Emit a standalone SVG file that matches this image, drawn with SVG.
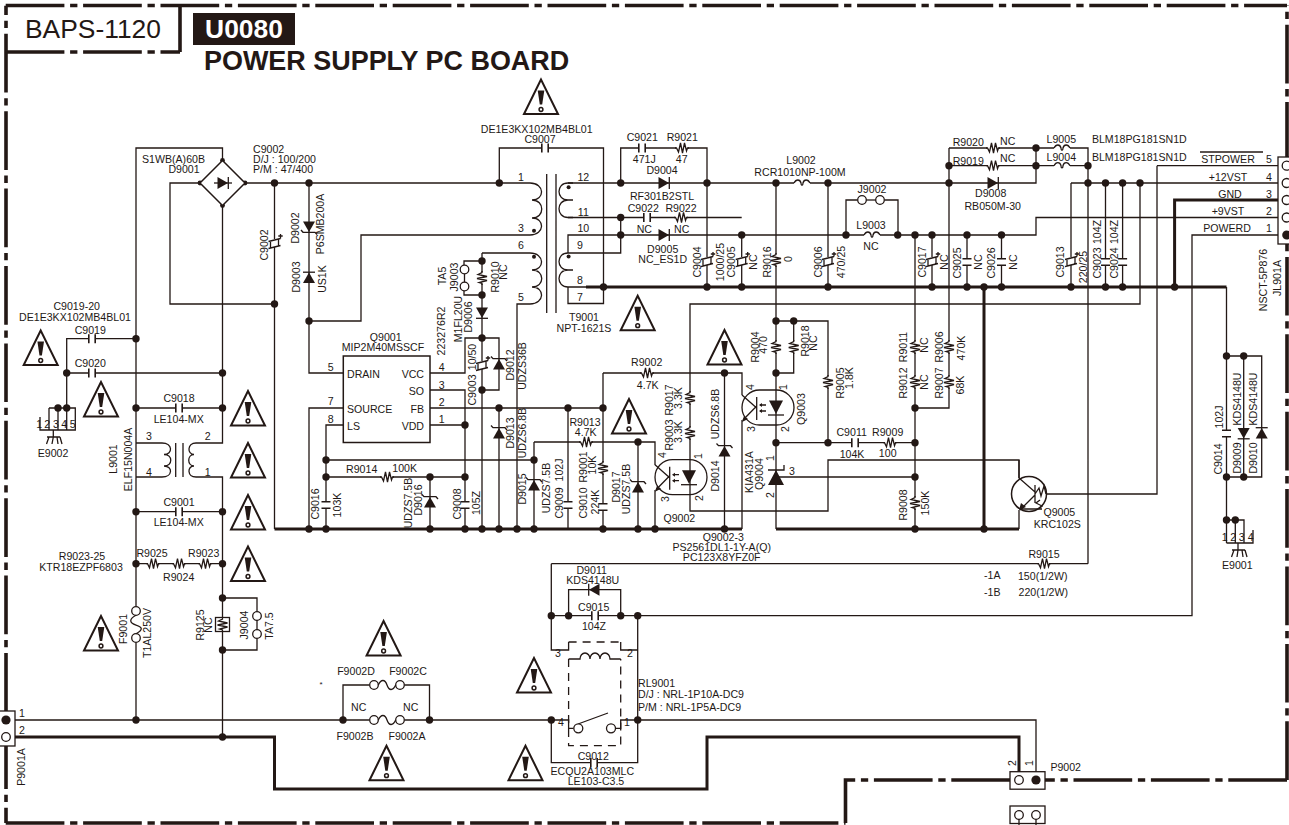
<svg xmlns="http://www.w3.org/2000/svg" width="1289" height="825" viewBox="0 0 1289 825">
<style>
text{font-family:"Liberation Sans",Arial,sans-serif;font-size:10.6px;fill:#231815;text-anchor:middle}
.s{text-anchor:start}.e{text-anchor:end}
.w,.t,.b,.sy{fill:none;stroke:#231815;stroke-linejoin:miter}
.w{stroke-width:1.3}.t{stroke-width:3}
.b{stroke-width:3.6;stroke-dasharray:58.7 5.7 7.3 5.7}
.sy{stroke-width:1.3}
.f{fill:#231815;stroke:none}
.o{fill:#fff;stroke:#231815;stroke-width:1.3}
.m{fill:#fff;stroke:none}
.d{fill:#231815;stroke:none}
</style>
<defs>
<circle id="j" r="3.7" class="d"/>
<circle id="js" r="2.4" class="d"/>
<g id="tri"><path d="M0,0 L-17,34.5 H17 Z" fill="#fff" stroke="#231815" stroke-width="2"/><path d="M-3.3,11 H3.3 L1.2,25 H-1.2 Z" class="f"/><circle cy="30" r="1.9" fill="#fff" stroke="#231815" stroke-width="1.5"/></g>
<g id="rh"><rect x="-6" y="-2" width="12" height="4" class="m"/><path class="sy" d="M-7,0 H-5.5 L-3.5,4 L-1.5,-5 L0.5,5 L2.5,-5 L4.5,3 L5.5,0 H7"/></g>
<g id="rv"><use href="#rh" transform="rotate(90)"/></g>
<g id="ch"><rect x="-3" y="-2" width="6" height="4" class="m"/><path class="sy" style="stroke-width:1.6" d="M-3.2,-4.5 V4.5 M3.2,-4.5 V4.5"/></g>
<g id="cv"><use href="#ch" transform="rotate(90)"/></g>
<g id="ce"><rect x="-3" y="-4" width="6" height="8" class="m"/><path class="sy" d="M-6,-1.5 L6,-4.5 M-6,5.5 L6,2.5 M-4,-1 V5 M4,-3.5 V3 M6,-9 V-4.5 M3.8,-7 H8.2"/></g>
<g id="dr"><path class="f" d="M-5.5,-6 V6 L5,0 Z"/><path class="sy" d="M5.3,-6 V6"/></g>
<g id="dl"><path class="f" d="M5.5,-6 V6 L-5,0 Z"/><path class="sy" d="M-5.3,-6 V6"/></g>
<g id="dd"><path class="f" d="M-6,-5.5 H6 L0,5 Z"/><path class="sy" d="M-6,5.3 H6"/></g>
<g id="du"><path class="f" d="M-6,5.5 H6 L0,-5 Z"/><path class="sy" d="M-6,-5.3 H6"/></g>
<g id="zd"><path class="f" d="M-6,-5.5 H6 L0,5 Z"/><path class="sy" d="M-8,3 L-6,5.3 H6 L8,7.5"/></g>
<g id="zu"><path class="f" d="M-6,5.5 H6 L0,-5 Z"/><path class="sy" d="M-8,-7.5 L-6,-5.3 H6 L8,-3"/></g>
<g id="l"><rect x="-8" y="-2" width="16" height="4" class="m"/><path class="sy" d="M-8,0 C-6,-4 -2,-4 -1,0 C-1,3 1,3 1,0 C2,-4 6,-4 8,0"/></g>
<g id="opto"><rect width="52" height="35" rx="17.5" fill="none" stroke="#231815" stroke-width="1.3"/><path class="sy" d="M0,5 L14.7,18 M14.7,16 L1,30 M14.7,7 V30 M24,15 H18 M24,21 H18"/><path class="f" d="M17,15 L20,13 V17 Z M17,21 L20,19 V23 Z M0,32 L2,26 L6,29 Z"/><path class="f" d="M27,10.5 H41 L34,24 Z"/><path class="sy" d="M26,25 H42"/></g>
</defs>

<g id="border">
<path class="b" d="M5.7,5.5 H1287"/>
<path class="b" stroke-dashoffset="49.3" d="M6,5.7 V823"/>
<path class="b" d="M5.7,823 H845.5"/>
<path class="b" d="M1287,780 V5.5"/>
<path class="b" d="M1287,780 H1045"/>
<path class="b" d="M1010,780 H845.5 V823"/>
<path class="b" d="M5.7,52 H180"/>
<path class="w" style="stroke-width:3.6" d="M180,52 V5"/>
</g>

<g id="title">
<text class="s" x="25" y="37.5" style="font-size:26.4px">BAPS-1120</text>
<rect x="193" y="13" width="102" height="32" fill="#231815"/>
<text x="244" y="37.8" style="font-size:26.4px;font-weight:bold;fill:#fff">U0080</text>
<text class="s" x="204" y="70" style="font-size:26.95px;font-weight:bold">POWER SUPPLY PC BOARD</text>
</g>

<g id="connectors">
<path class="w" d="M222.5,160 V148 H136 V477 M136,443 H162 M136,477 H162 M136,477 V606.5 M136,642.5 V720"/>
<path class="w" d="M200,183 H170 V304 H274.5"/>
<path class="w" d="M222.5,206 V443 H196 M196,477 H222.5 V737"/>
<path class="w" d="M245,183 H530"/>
<path class="w" d="M274.5,183 V529"/>
<path class="w" d="M309,183 V373 H343"/>
<path class="w" d="M309,321 H361 V235 H530"/>
<path class="w" d="M66.7,408 V338.7 H136 M66.7,373 H222.5 M136,408 H222.5 M136,511.7 H222.5 M136,563.7 H222.5"/>
<path class="w" d="M222.5,598 H257 V611.5 M257,638.5 V650 H222.5"/>
<path class="w" d="M15,720 H343 M343,720 H369.5 M404.5,720 H551.3 M343,720 V685 H369.5 M404.5,685 H429.5 V720"/>
<path class="t" d="M15,737 H274.5 V789 H707 V737 H1019 V776"/>
<path class="w" d="M551.3,720 H568.6 V728.3 H573.5 M637.7,720 H620.7 V728.3 H615.5 M637.7,720 H1036 V776"/>
<path class="w" d="M551.3,720 V762.6 H637.7 V615.7 M551.3,563.7 V650 H568.6 V642 M637.7,650 H620.7 V642"/>
<path class="w" d="M551.3,563.7 H1088 M551.3,615.7 H637.7 M637.7,615.7 H1192 V235 H1282 M568.6,615.7 V589.7 H620.7 V615.7"/>
<path class="w" d="M343,408 H309 V529 M343,425 H326 V529 M326,460 H534 M326,477 H465"/>
<path class="w" d="M430,373 H465 V338 H482 M430,390 H465 V529 M430,425 H465 M430,408 H603 M430,477 V529"/>
<path class="w" d="M482,253 V529 M482,253 H530 M482,261 H464 V265 M464,291 V295 H482 M482,338 H499 V390 H482 M499,408 V529"/>
<path class="w" d="M530,304 H517 V529 M534,442 V529 M534,442 H655 V465 M568,408 V529 M603,373 V529 M638,442 V529"/>
<path class="w" d="M603,373 H742 V395 M742,420 V529 M724.5,373 V529 M655,490 V529"/>
<path class="w" d="M499.3,183 V148 H603.5 V303.5 H568 V287 M568,253 V235 H741.7 V287 M568,253 H620.7 V217.5 H741.7 M568,217.5 H620.7"/>
<path class="w" d="M568,183 H1036 V148 M620.7,183 V148 H707 V287 M776,183 V373 V442.7 V529 M828,183 V287 M741.7,235 H846 M846,235 V200 H857.5 M884.5,200 H898 V235"/>
<path class="w" d="M846,235 H1036 V217.5 H1282 M915,235 V529 M932,235 V287 M967,235 V287 M1001.5,235 V287"/>
<path class="w" d="M949,148 H1088 V563.7 M949,165.7 H1088 M949,148 V408 H915 M1071,183 H1282 M1071,183 V287 M1105.5,183 V287 M1122.6,183 V287 M1140,183 V304 H690 V511 H828 V460 H1019 V478"/>
<path class="w" d="M776,321 H828 V442.7 M793.7,321 V373 H776 M776,442.7 H915 M776,477 H915"/>
<path class="w" d="M1157,165.7 H1282 M1157,165.7 V494 H1047 M1019,510 V529"/>
<path class="w" d="M1226.5,287 V543 M1226.5,356 H1261.7 V477 H1226.5 M1243.7,356 V477"/>
<path class="t" d="M274.5,529 H742 M776,529 H1019 M586,287 H1226.5 M984,287 V529 M1174.6,287 V200 H1282"/>
<use href="#js" x="222.5" y="160.5"/><use href="#js" x="222.5" y="205.5"/><use href="#js" x="200" y="183"/><use href="#js" x="245" y="183"/>
<use href="#j" x="274.5" y="183"/><use href="#j" x="309" y="183"/><use href="#j" x="274.5" y="304"/><use href="#j" x="309" y="321"/>
<use href="#j" x="136" y="338.7"/><use href="#j" x="66.7" y="373"/><use href="#j" x="222.5" y="373"/><use href="#j" x="136" y="408"/><use href="#j" x="222.5" y="408"/><use href="#j" x="136" y="511.7"/><use href="#j" x="222.5" y="511.7"/><use href="#j" x="136" y="563.7"/><use href="#j" x="222.5" y="563.7"/><use href="#j" x="222.5" y="598"/><use href="#j" x="222.5" y="650"/><use href="#j" x="136" y="720"/><use href="#j" x="222.5" y="737"/><use href="#j" x="343" y="720"/><use href="#j" x="429.5" y="720"/>
<use href="#j" x="551.3" y="720"/><use href="#j" x="637.7" y="720"/><use href="#j" x="551.3" y="615.7"/><use href="#j" x="568.6" y="615.7"/><use href="#j" x="620.7" y="615.7"/><use href="#j" x="637.7" y="615.7"/>
<use href="#j" x="309" y="529"/><use href="#j" x="326" y="529"/><use href="#j" x="430" y="529"/><use href="#j" x="465" y="529"/><use href="#j" x="482" y="529"/><use href="#j" x="499" y="529"/><use href="#j" x="517" y="529"/><use href="#j" x="534" y="529"/><use href="#j" x="603" y="529"/><use href="#j" x="638" y="529"/><use href="#j" x="655" y="529"/><use href="#j" x="724.5" y="529"/><use href="#j" x="915" y="529"/><use href="#j" x="984" y="529"/>
<use href="#j" x="326" y="460"/><use href="#j" x="326" y="477"/><use href="#j" x="430" y="477"/><use href="#j" x="465" y="477"/><use href="#j" x="465" y="425"/><use href="#j" x="534" y="460"/><use href="#j" x="482" y="261"/><use href="#j" x="482" y="295"/><use href="#j" x="482" y="338"/><use href="#j" x="482" y="390"/><use href="#j" x="499" y="408"/><use href="#j" x="568" y="408"/><use href="#j" x="603" y="408"/><use href="#j" x="638" y="442"/><use href="#j" x="724.5" y="373"/>
<use href="#j" x="499.3" y="183"/><use href="#j" x="620.7" y="183"/><use href="#j" x="707" y="183"/><use href="#j" x="776" y="183"/><use href="#j" x="828" y="183"/><use href="#j" x="620.7" y="217.5"/><use href="#j" x="620.7" y="235"/><use href="#j" x="741.7" y="235"/><use href="#j" x="846" y="235"/><use href="#j" x="897.7" y="235"/><use href="#j" x="915" y="235"/><use href="#j" x="932" y="235"/><use href="#j" x="967" y="235"/><use href="#j" x="1001.5" y="235"/>
<use href="#j" x="603.5" y="287"/><use href="#j" x="707" y="287"/><use href="#j" x="741.7" y="287"/><use href="#j" x="828" y="287"/><use href="#j" x="932" y="287"/><use href="#j" x="967" y="287"/><use href="#j" x="984" y="287"/><use href="#j" x="1001.5" y="287"/><use href="#j" x="1071" y="287"/><use href="#j" x="1105.5" y="287"/><use href="#j" x="1122.6" y="287"/><use href="#j" x="1174.6" y="287"/>
<use href="#j" x="949" y="165.7"/><use href="#j" x="949" y="183"/><use href="#j" x="1036" y="148"/><use href="#j" x="1036" y="165.7"/><use href="#j" x="1088" y="165.7"/><use href="#j" x="1088" y="183"/><use href="#j" x="1105.5" y="183"/><use href="#j" x="1122.6" y="183"/><use href="#j" x="1140" y="183"/>
<use href="#j" x="776" y="321"/><use href="#j" x="793.7" y="321"/><use href="#j" x="776" y="373"/><use href="#j" x="776" y="442.7"/><use href="#j" x="828" y="442.7"/><use href="#j" x="915" y="408"/><use href="#j" x="915" y="442.7"/><use href="#j" x="915" y="477"/>
<use href="#j" x="1226.5" y="356"/><use href="#j" x="1243.7" y="356"/><use href="#j" x="1226.5" y="477"/><use href="#j" x="1243.7" y="477"/><use href="#j" x="1226.5" y="520"/><use href="#j" x="1235.3" y="520"/>
<use href="#j" x="58" y="408"/><use href="#j" x="66.7" y="408"/>
</g>

<g id="warnings">
<use href="#tri" x="40.7" y="330.5"/><use href="#tri" x="101" y="382"/><use href="#tri" x="248" y="391"/><use href="#tri" x="248" y="443"/><use href="#tri" x="248" y="495"/><use href="#tri" x="248" y="546.5"/><use href="#tri" x="101" y="616"/><use href="#tri" x="383.6" y="621"/><use href="#tri" x="386.5" y="745.7"/><use href="#tri" x="541" y="79.5"/><use href="#tri" x="637.7" y="295.7"/><use href="#tri" x="724.5" y="330"/><use href="#tri" x="629" y="399"/><use href="#tri" x="534" y="658"/><use href="#tri" x="525.5" y="745.7"/>
</g>

<g id="D9001">
<path d="M222.5,160.5 L245,183 L222.5,205.5 L200,183 Z" fill="#fff" stroke="#231815" stroke-width="1.5"/>
<use href="#dr" x="223" y="183"/>
<path class="w" d="M214,183 H232"/>
<text x="173.5" y="162.5">S1WB(A)60B</text><text x="184" y="173">D9001</text>
</g>
<g id="C9002">
<use href="#ce" x="274.5" y="243"/>
<text class="s" x="253" y="153">C9002</text><text class="s" x="253" y="163">D/J : 100/200</text><text class="s" x="253" y="173">P/M : 47/400</text>
<text transform="translate(268,245) rotate(-90)">C9002</text>
</g>
<g id="D9002"><use href="#zd" x="309" y="227"/><text transform="translate(299,228) rotate(-90)">D9002</text><text transform="translate(324,224) rotate(-90)">P6SMB200A</text></g>
<g id="D9003"><use href="#du" x="309" y="277.5"/><text transform="translate(300,277) rotate(-90)">D9003</text><text transform="translate(325.5,279) rotate(-90)">US1K</text></g>

<g id="C9019"><use href="#ch" x="92" y="338.7"/><text x="76.7" y="310">C9019-20</text><text x="75" y="321">DE1E3KX102MB4BL01</text><text x="90.3" y="334">C9019</text></g>
<g id="C9020"><use href="#ch" x="92" y="373"/><text x="90.3" y="367">C9020</text></g>
<g id="E9002">
<path class="w" d="M49,408 H75.3 V430 H40 V417 M49,408 V430 M58,408 V430 M66.7,408 V430 M53.3,430 V437 M47,437 H60 M49,437 L46.5,444 M53.3,437 L52,444 M57,437 L58,444 M60,437 L62,444"/>
<text x="39.3" y="428">1</text><text x="47.3" y="428">2</text><text x="56" y="428">3</text><text x="64.3" y="428">4</text><text x="72.7" y="428">5</text>
<text x="53" y="457">E9002</text>
</g>
<g id="C9018"><use href="#ch" x="179" y="408"/><text x="179" y="402">C9018</text><text x="178.7" y="423">LE104-MX</text></g>
<g id="L9001">
<path class="w" d="M162,443 C173,443 173,454.5 164,454.5 C173,454.5 173,466 164,466 C173,466 173,477 162,477 M196,443 C187,443 187,454.5 194,454.5 M194,454.5 C187,454.5 187,466 194,466 M194,466 C187,466 187,477 196,477 M175.7,443 V477 M183,443 V477"/>
<text transform="translate(117,459) rotate(-90)">L9001</text><text transform="translate(131.5,459.5) rotate(-90)">ELF15N004A</text>
<text x="149" y="440">3</text><text x="207.7" y="440">2</text><text x="149" y="475.5">4</text><text x="207.7" y="475.5">1</text>
</g>
<g id="C9001"><use href="#ch" x="179" y="511.7"/><text x="179" y="506">C9001</text><text x="178.7" y="526">LE104-MX</text></g>
<g id="R9023-25">
<use href="#rh" x="153" y="563.7"/><use href="#rh" x="179" y="563.7"/><use href="#rh" x="205" y="563.7"/>
<text x="82" y="559.5">R9023-25</text><text x="81" y="571">KTR18EZPF6803</text><text x="152" y="557">R9025</text><text x="203.7" y="557">R9023</text><text x="178.7" y="581">R9024</text>
</g>
<g id="F9001">
<circle class="o" cx="136" cy="611" r="4.3"/><circle class="o" cx="136" cy="638" r="4.3"/>
<path class="w" d="M136,615.3 C129,619 129,623 136,625 C143,627 143,630 136,633.7"/>
<text transform="translate(127,629) rotate(-90)">F9001</text><text transform="translate(151,633) rotate(-90)">T1AL250V</text>
</g>
<g id="R9125"><rect x="215.5" y="617.5" width="14" height="14" fill="#fff" stroke="#231815" stroke-width="1.3"/><use href="#rv" x="222.5" y="624.5"/><text transform="translate(204,625) rotate(-90)">R9125</text><text transform="translate(212,625) rotate(-90)">NC</text></g>
<g id="J9004"><circle class="o" cx="257" cy="616" r="4.3"/><circle class="o" cx="257" cy="634" r="4.3"/><path class="w" d="M257,620 V630"/><text transform="translate(248,625) rotate(-90)">J9004</text><text transform="translate(272.5,626) rotate(-90)">TA7.5</text></g>
<g id="P9001A">
<rect x="-2" y="711" width="17" height="35" fill="#fff" stroke="#231815" stroke-width="1.3"/>
<circle cx="6" cy="720" r="4.6" class="d"/><circle class="o" cx="6" cy="737" r="4.3"/>
<text x="22" y="717">1</text><text x="22" y="734">2</text><text transform="translate(24.5,767) rotate(-90)">P9001A</text>
</g>
<g id="F9002">
<circle class="o" cx="374" cy="685" r="4.3"/><circle class="o" cx="400" cy="685" r="4.3"/><circle class="o" cx="374" cy="720" r="4.3"/><circle class="o" cx="400" cy="720" r="4.3"/>
<path class="w" d="M378.3,685 C381,679 385,679 387,685 C389,691 393,691 395.7,685 M378.3,720 C381,714 385,714 387,720 C389,726 393,726 395.7,720"/>
<text x="356" y="675">F9002D</text><text x="408" y="675">F9002C</text><text x="358.7" y="710.5">NC</text><text x="410.7" y="710.5">NC</text><text x="355" y="740">F9002B</text><text x="407" y="740">F9002A</text><text x="321" y="687" style="font-size:8px">*</text>
</g>

<g id="Q9001">
<rect x="343.3" y="356" width="86.7" height="86.5" fill="#fff" stroke="#231815" stroke-width="1.5"/>
<text x="385.7" y="340.5">Q9001</text><text x="383" y="351">MIP2M40MSSCF</text>
<text x="330.7" y="371">5</text><text x="330.7" y="405">7</text><text x="330.7" y="423">8</text><text x="441.7" y="371">4</text><text x="441.7" y="389">3</text><text x="441.7" y="406">2</text><text x="441.7" y="423">1</text>
<text class="s" x="347" y="377.5">DRAIN</text><text class="s" x="347" y="412.8">SOURCE</text><text class="s" x="347" y="430">LS</text>
<text class="e" x="424" y="377.5">VCC</text><text class="e" x="424" y="394.8">SO</text><text class="e" x="424" y="412.8">FB</text><text class="e" x="424" y="430">VDD</text>
</g>
<g id="R9014"><use href="#rh" x="387" y="477"/><text x="361.7" y="473">R9014</text><text x="404.7" y="472">100K</text></g>
<g id="C9016"><use href="#cv" x="326" y="505"/><text transform="translate(319,504) rotate(-90)">C9016</text><text transform="translate(340.5,505) rotate(-90)">103K</text></g>
<g id="D9016"><use href="#zu" x="430" y="502"/><text transform="translate(412,503) rotate(-90)">UDZS7.5B</text><text transform="translate(422,500) rotate(-90)">D9016</text></g>
<g id="C9008"><use href="#cv" x="465" y="505"/><text transform="translate(460.5,504) rotate(-90)">C9008</text><text transform="translate(480,503) rotate(-90)">105Z</text></g>
<g id="C9003"><use href="#ce" x="482" y="365"/><text transform="translate(475.5,390) rotate(-90)">C9003</text><text transform="translate(475.5,357) rotate(-90)">10/50</text></g>
<g id="D9012"><use href="#zu" x="499" y="364"/><text transform="translate(514,365) rotate(-90)">D9012</text><text transform="translate(526,366) rotate(-90)">UDZS36B</text></g>
<g id="D9013"><use href="#zu" x="499" y="433"/><text transform="translate(514,433) rotate(-90)">D9013</text><text transform="translate(526,433) rotate(-90)">UDZS6.8B</text></g>
<g id="R9013"><use href="#rh" x="586" y="442"/><text x="585" y="425.5">R9013</text><text x="585.7" y="435.5">4.7K</text></g>
<g id="D9015"><use href="#zu" x="534" y="485"/><text transform="translate(526,489) rotate(-90)">D9015</text><text transform="translate(549.5,488) rotate(-90)">UDZS7.5B</text></g>
<g id="C9009"><use href="#cv" x="568" y="505"/><text transform="translate(563,503) rotate(-90)">C9009</text><text transform="translate(563,470) rotate(-90)">102J</text></g>
<g id="C9010"><use href="#cv" x="603" y="507"/><text transform="translate(586.5,503) rotate(-90)">C9010</text><text transform="translate(599,502) rotate(-90)">224K</text></g>
<g id="R9001"><use href="#rv" x="603" y="468"/><text transform="translate(586.5,467) rotate(-90)">R9001</text><text transform="translate(595.5,465) rotate(-90)">10K</text></g>
<g id="D9017"><use href="#zu" x="638" y="487"/><text transform="translate(620,487) rotate(-90)">D9017</text><text transform="translate(630,489) rotate(-90)">UDZS7.5B</text></g>
<g id="R9002"><use href="#rh" x="647" y="373"/><text x="646.7" y="366">R9002</text><text x="647.7" y="389">4.7K</text></g>
<g id="R9017"><use href="#rv" x="690" y="398"/><text transform="translate(673,400) rotate(-90)">R9017</text><text transform="translate(681.5,398) rotate(-90)">3.3K</text></g>
<g id="R9003"><use href="#rv" x="690" y="433"/><text transform="translate(673,435) rotate(-90)">R9003</text><text transform="translate(681.5,432) rotate(-90)">3.3K</text></g>
<g id="D9014"><use href="#zu" x="724.5" y="451"/><text transform="translate(719,414) rotate(-90)">UDZS6.8B</text><text transform="translate(719,476) rotate(-90)">D9014</text></g>
<g id="Q9002">
<use href="#opto" x="655" y="459.7"/>
<text transform="translate(665.5,455) rotate(-90)">4</text><text transform="translate(669,499) rotate(-90)">3</text><text transform="translate(702,456) rotate(-90)">1</text><text transform="translate(703,498) rotate(-90)">2</text>
<text x="679.3" y="522">Q9002</text><text x="723.3" y="541">Q9002-3</text><text x="721.7" y="551">PS2561DL1-1Y-A(Q)</text><text x="721.7" y="561">PC123X8YFZ0F</text>
</g>
<g id="Q9003">
<use href="#opto" x="742" y="390"/>
<text transform="translate(754,387) rotate(-90)">4</text><text transform="translate(787,387) rotate(-90)">1</text><text transform="translate(755,429) rotate(-90)">3</text><text transform="translate(789,429) rotate(-90)">2</text>
<text transform="translate(805,409) rotate(-90)">Q9003</text>
</g>
<g id="R9004"><use href="#rv" x="776" y="347"/><text transform="translate(759,347) rotate(-90)">R9004</text><text transform="translate(767,345) rotate(-90)">470</text></g>
<g id="R9018"><use href="#rv" x="793.7" y="347"/><text transform="translate(809,341) rotate(-90)">R9018</text><text transform="translate(817,343) rotate(-90)">NC</text></g>
<g id="R9005"><use href="#rv" x="828" y="382"/><text transform="translate(844,383) rotate(-90)">R9005</text><text transform="translate(853,378) rotate(-90)">1.8K</text></g>
<g id="C9011"><use href="#ch" x="855" y="442.7"/><text x="851.7" y="436">C9011</text><text x="852" y="458">104K</text></g>
<g id="R9009"><use href="#rh" x="890" y="442.7"/><text x="887.7" y="436">R9009</text><text x="887.7" y="456.5">100</text></g>
<g id="Q9004">
<path class="f" d="M768,485 H784 L776,470 Z"/><path class="sy" d="M768,470 H784 V465"/>
<text transform="translate(753,472) rotate(-90)">KIA431A</text><text transform="translate(763,474) rotate(-90)">Q9004</text><text transform="translate(774,458) rotate(-90)">1</text><text transform="translate(774,495) rotate(-90)">2</text><text x="792" y="475">3</text>
</g>
<g id="R9011"><use href="#rv" x="915" y="347"/><text transform="translate(907,347) rotate(-90)">R9011</text><text transform="translate(928,345) rotate(-90)">NC</text></g>
<g id="R9012"><use href="#rv" x="915" y="382"/><text transform="translate(907,383) rotate(-90)">R9012</text><text transform="translate(928,382) rotate(-90)">NC</text></g>
<g id="R9006"><use href="#rv" x="949" y="347"/><text transform="translate(943,347) rotate(-90)">R9006</text><text transform="translate(964.5,348) rotate(-90)">470K</text></g>
<g id="R9007"><use href="#rv" x="949" y="382"/><text transform="translate(943,383) rotate(-90)">R9007</text><text transform="translate(964,385) rotate(-90)">68K</text></g>
<g id="R9008"><use href="#rv" x="915" y="503"/><text transform="translate(907,505) rotate(-90)">R9008</text><text transform="translate(929,503) rotate(-90)">150K</text></g>
<g id="Q9005">
<circle cx="1029" cy="494" r="17.5" fill="#fff" stroke="#231815" stroke-width="1.5"/>
<path class="sy" d="M1019,460 V478 L1035,492 M1035,485 V503 M1035,495 L1020,510 M1020,509 H1042 M1035,494 L1039,488 L1041,496 L1044,486 L1046,494 M1040,500 L1036,503 L1042,506 L1038,509"/>
<path class="f" d="M1019,510 L1021,503 L1026,507 Z"/>
<text x="1059.3" y="516">Q9005</text><text x="1057.3" y="528">KRC102S</text>
</g>
<g id="R9015"><use href="#rh" x="1044" y="563.7"/><text x="1044" y="558">R9015</text><text x="992.3" y="579">-1A</text><text x="1042.7" y="579.5">150(1/2W)</text><text x="992.3" y="596">-1B</text><text x="1043.3" y="596">220(1/2W)</text></g>
<g id="C9014"><use href="#cv" x="1226.5" y="433.5"/><text transform="translate(1222,459) rotate(-90)">C9014</text><text transform="translate(1223,417) rotate(-90)">102J</text></g>
<g id="D9009"><use href="#dd" x="1243.7" y="433.5"/><text transform="translate(1240.5,399) rotate(-90)">KDS4148U</text><text transform="translate(1240.5,458) rotate(-90)">D9009</text></g>
<g id="D9010"><use href="#du" x="1261.7" y="433"/><text transform="translate(1257,399) rotate(-90)">KDS4148U</text><text transform="translate(1257,458) rotate(-90)">D9010</text></g>
<g id="E9001">
<path class="w" d="M1226.5,520 H1244 V543 M1235.3,520 V543 M1253,530 V543 H1226.5 M1238,543 V550 M1232,550 H1245 M1234,550 L1231.5,557 M1238,550 L1237,557 M1242,550 L1243,557 M1245,550 L1247,557"/>
<text x="1224.7" y="540.5">1</text><text x="1233.3" y="540.5">2</text><text x="1241.7" y="540.5">3</text><text x="1250.7" y="540.5">4</text><text x="1237.3" y="569">E9001</text>
</g>

<g id="T9001">
<path class="w" d="M530,183 C545,183 545,200 532,200 C545,200 545,218 532,218 C545,218 545,235 530,235 M530,253 C545,253 545,270 532,270 C545,270 545,287 532,287 C545,287 545,304 530,304 M546.7,174 V313 M556,174 V313"/>
<path class="w" d="M573,183 H568 C556,183 556,200 568,200 H573 M568,200 C556,200 556,217.5 568,217.5 H573 M568,253 C556,253 556,270 568,270 H573 M568,270 C556,270 556,287 568,287 H590"/>
<circle cx="534" cy="230.7" r="2" class="d"/><circle cx="534" cy="256.7" r="2" class="d"/><circle cx="568.6" cy="187.3" r="2" class="d"/><circle cx="568.6" cy="256.5" r="2" class="d"/>
<text x="521" y="180.5">1</text><text x="521" y="232">3</text><text x="521" y="249">6</text><text x="521" y="301">5</text>
<text x="583.3" y="180.5">12</text><text x="583.3" y="215.5">11</text><text x="583.3" y="232">10</text><text x="580" y="249">9</text><text x="580" y="284">8</text><text x="580" y="301">7</text>
<text x="584" y="320.5">T9001</text><text x="584" y="332">NPT-1621S</text>
</g>
<g id="C9007"><use href="#ch" x="545" y="148"/><text x="536.7" y="132.5">DE1E3KX102MB4BL01</text><text x="540" y="142.5">C9007</text></g>
<g id="C9021"><use href="#ch" x="642" y="148"/><text x="642.3" y="141">C9021</text><text x="644.3" y="163">471J</text></g>
<g id="R9021"><use href="#rh" x="682" y="148"/><text x="682.3" y="141">R9021</text><text x="681.7" y="163">47</text></g>
<g id="D9004"><use href="#dr" x="664" y="183"/><text x="662" y="174">D9004</text><text x="662" y="200">RF301B2STL</text></g>
<g id="C9022"><use href="#ch" x="647" y="217.5"/><text x="643.3" y="212">C9022</text><text x="644.3" y="233">NC</text></g>
<g id="R9022"><use href="#rh" x="681" y="217.5"/><text x="681" y="212">R9022</text><text x="681.7" y="233">NC</text></g>
<g id="D9005"><use href="#dr" x="664" y="235"/><text x="662.7" y="253">D9005</text><text x="662.7" y="263">NC_ES1D</text></g>
<g id="L9002"><use href="#l" x="802" y="183"/><text x="801" y="164">L9002</text><text x="800" y="176">RCR1010NP-100M</text></g>
<g id="C9004"><use href="#ce" x="707" y="261"/><text transform="translate(700.5,262) rotate(-90)">C9004</text><text transform="translate(724,262) rotate(-90)">1000/25</text></g>
<g id="C9005"><use href="#ce" x="741.7" y="261"/><text transform="translate(735,262) rotate(-90)">C9005</text><text transform="translate(757,262) rotate(-90)">NC</text></g>
<g id="R9016"><use href="#rv" x="776" y="260"/><text transform="translate(770.5,262) rotate(-90)">R9016</text><text transform="translate(791.5,259) rotate(-90)">0</text></g>
<g id="C9006"><use href="#ce" x="828" y="261"/><text transform="translate(821.5,262) rotate(-90)">C9006</text><text transform="translate(845,262) rotate(-90)">470/25</text></g>
<g id="J9003"><circle class="o" cx="464.5" cy="269.5" r="4.3"/><circle class="o" cx="464.5" cy="286.5" r="4.3"/><path class="w" d="M464.5,273.8 V282.2"/><text transform="translate(446,276) rotate(-90)">TA5</text><text transform="translate(458,277) rotate(-90)">J9003</text></g>
<g id="R9010"><use href="#rv" x="482" y="278"/><text transform="translate(499,277) rotate(-90)">R9010</text><text transform="translate(507,272) rotate(-90)">NC</text></g>
<g id="D9006"><use href="#dd" x="482" y="313"/><text transform="translate(471.5,317) rotate(-90)">D9006</text><text transform="translate(462,319) rotate(-90)">M1FL20U</text><text transform="translate(445,331) rotate(-90)">223276R2</text></g>
<g id="J9002"><circle class="o" cx="862" cy="200" r="4.3"/><circle class="o" cx="880" cy="200" r="4.3"/><path class="w" d="M866.3,200 H875.7"/><text x="872" y="193">J9002</text></g>
<g id="L9003"><use href="#l" x="872" y="235"/><text x="871" y="229">L9003</text><text x="871" y="249.5">NC</text></g>
<g id="C9017"><use href="#ce" x="932" y="261"/><text transform="translate(926,262) rotate(-90)">C9017</text><text transform="translate(948,262) rotate(-90)">NC</text></g>
<g id="C9025"><use href="#cv" x="967" y="262"/><text transform="translate(960.5,263) rotate(-90)">C9025</text><text transform="translate(982,262) rotate(-90)">NC</text></g>
<g id="C9026"><use href="#cv" x="1001.5" y="262"/><text transform="translate(995,263) rotate(-90)">C9026</text><text transform="translate(1016.5,262) rotate(-90)">NC</text></g>
<g id="C9013"><use href="#ce" x="1071" y="261"/><text transform="translate(1064,262) rotate(-90)">C9013</text><text transform="translate(1086.5,267) rotate(-90)">220/25</text></g>
<g id="C9023"><use href="#cv" x="1105.5" y="262"/><text transform="translate(1100.5,263) rotate(-90)">C9023</text><text transform="translate(1100.5,232) rotate(-90)">104Z</text></g>
<g id="C9024"><use href="#cv" x="1122.6" y="262"/><text transform="translate(1118,263) rotate(-90)">C9024</text><text transform="translate(1118,232) rotate(-90)">104Z</text></g>
<g id="R9020"><use href="#rh" x="993" y="148"/><text x="968.3" y="146">R9020</text><text x="1007.7" y="145">NC</text></g>
<g id="R9019"><use href="#rh" x="993" y="165.7"/><text x="968.3" y="164.5">R9019</text><text x="1007.7" y="162">NC</text></g>
<g id="L9005"><use href="#l" x="1062" y="148"/><text x="1061.3" y="143">L9005</text><text x="1139.3" y="143">BLM18PG181SN1D</text></g>
<g id="L9004"><use href="#l" x="1062" y="165.7"/><text x="1061.3" y="161">L9004</text><text x="1139.3" y="161">BLM18PG181SN1D</text></g>
<g id="D9008"><use href="#dr" x="993" y="183"/><text x="990.7" y="196.5">D9008</text><text x="992.7" y="210">RB050M-30</text></g>
<g id="D9011"><use href="#dl" x="594" y="589.7"/><text x="591.7" y="574">D9011</text><text x="592.7" y="584">KDS4148U</text></g>
<g id="C9015"><use href="#ch" x="595" y="615.7"/><text x="593.7" y="611">C9015</text><text x="594" y="630">104Z</text></g>
<g id="RL9001">
<path class="w" stroke-dasharray="8 6" d="M568.6,642 H620.7 M568.6,659 V745.7 H620.7 V659"/>
<path class="w" d="M568.6,659 H580 a5,6 0 0 1 10,0 a5,6 0 0 1 10,0 a5,6 0 0 1 10,0 H620.7 M578,724 L608,713"/>
<circle class="o" cx="578.3" cy="728.3" r="4.5"/><circle class="o" cx="611" cy="728.3" r="4.5"/>
<text x="558" y="656.5">3</text><text x="630" y="656.5">2</text><text x="561" y="726">4</text><text x="627" y="726">1</text>
<text class="s" x="638" y="687">RL9001</text><text class="s" x="638" y="698">D/J : NRL-1P10A-DC9</text><text class="s" x="638" y="711">P/M : NRL-1P5A-DC9</text>
</g>
<g id="C9012"><use href="#ch" x="594" y="762.6"/><text x="593.3" y="759.5">C9012</text><text x="592.3" y="775">ECQU2A103MLC</text><text x="596" y="785">LE103-C3.5</text></g>

<g id="JL901A">
<rect x="1278" y="157" width="14" height="87" fill="#fff" stroke="#231815" stroke-width="1.3"/>
<circle class="o" cx="1286.7" cy="165.7" r="4.5"/><circle class="o" cx="1286.7" cy="183" r="4.5"/><circle class="o" cx="1286.7" cy="200" r="4.5"/><circle class="o" cx="1286.7" cy="217.5" r="4.5"/><circle cx="1286.7" cy="235" r="4.5" class="d"/>
<path class="w" d="M1200,152 H1263"/>
<text x="1228" y="163">STPOWER</text><text x="1228" y="180.5">+12VST</text><text x="1230" y="198">GND</text><text x="1228" y="215">+9VST</text><text x="1227" y="232">POWERD</text>
<text x="1269" y="163">5</text><text x="1269" y="180.5">4</text><text x="1269" y="198">3</text><text x="1269" y="215">2</text><text x="1269" y="232">1</text>
<text transform="translate(1267,280) rotate(-90)">NSCT-5P876</text><text transform="translate(1281,278) rotate(-90)">JL901A</text>
</g>
<g id="P9002">
<rect x="1010" y="771.7" width="35" height="17.5" fill="#fff" stroke="#231815" stroke-width="1.3"/>
<circle class="o" cx="1019" cy="780" r="4.3"/><circle cx="1036" cy="780" r="4.6" class="d"/>
<text transform="translate(1016,763) rotate(-90)">2</text><text transform="translate(1033,763) rotate(-90)">1</text><text x="1065.7" y="771">P9002</text>
<rect x="1010" y="806" width="35" height="17.5" fill="#fff" stroke="#231815" stroke-width="1.3"/>
<path class="w" d="M1019,819 V825 M1036,819 V825"/>
<circle class="o" cx="1019" cy="815" r="4.3"/><circle class="o" cx="1036" cy="815" r="4.3"/>
</g>
</svg>
